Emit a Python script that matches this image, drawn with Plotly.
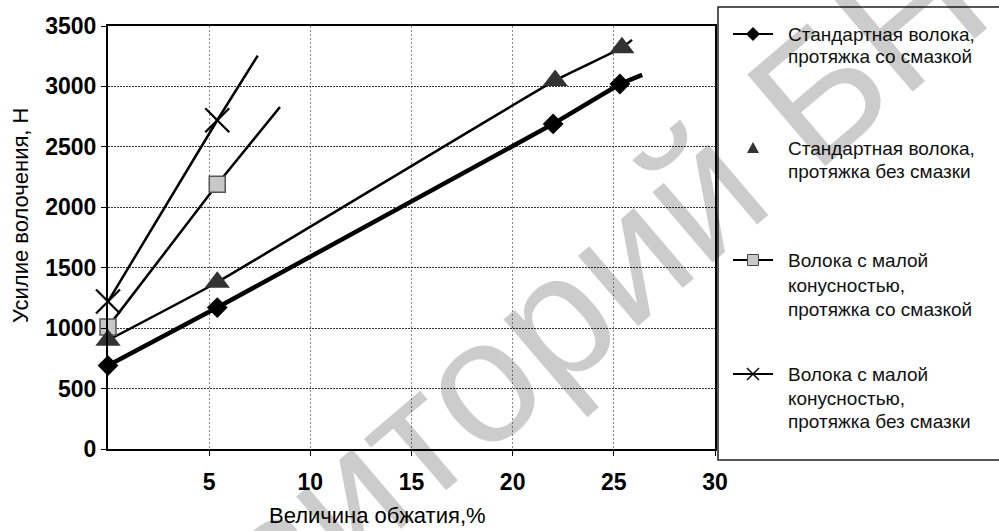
import plotly.graph_objects as go

# ---------------- data ----------------
x_title = "Величина обжатия,%"
y_title = "Усилие волочения, Н"

legend_lines = [
    ["Стандартная волока,", "протяжка со смазкой"],
    ["Стандартная волока,", "протяжка без смазки"],
    ["Волока с малой", "конусностью,", "протяжка со смазкой"],
    ["Волока с малой", "конусностью,", "протяжка без смазки"],
]

s1_x = [0, 5.4, 22.0, 25.3]
s1_y = [690, 1170, 2690, 3020]
s2_x = [0, 5.4, 22.1, 25.4]
s2_y = [900, 1380, 3050, 3320]
s3_x = [0, 5.4]
s3_y = [1010, 2190]
s4_x = [0, 5.4]
s4_y = [1220, 2720]

# where each trend line ends
trend_end_x = [26.4, 25.9, 8.5, 7.4]
trend_end_y = [3095, 3385, 2830, 3255]

x_tickvals = [5, 10, 15, 20, 25, 30]
y_tickvals = [0, 500, 1000, 1500, 2000, 2500, 3000, 3500]

watermark = "Репозиторий БНТУ"

# ---------------- figure ----------------
W, H = 999, 531
ML, MR, MT, MB = 108, 284, 26, 82
PW, PH = W - ML - MR, H - MT - MB


def px(xp):
    return (xp - ML) / PW


def py(yp):
    return (H - MB - yp) / PH


FONT = "Liberation Sans, Arial, sans-serif"
fig = go.Figure()

series = [(s1_x, s1_y), (s2_x, s2_y), (s3_x, s3_y), (s4_x, s4_y)]
line_widths = [4.5, 2.5, 2.5, 2.5]
for i, (xs, ys) in enumerate(series):
    fig.add_trace(go.Scatter(
        x=list(xs) + [trend_end_x[i]], y=list(ys) + [trend_end_y[i]],
        mode="lines", line=dict(color="black", width=line_widths[i],
                                shape="spline" if i == 1 else "linear", smoothing=0.4),
        showlegend=False, hoverinfo="skip"))

# markers
fig.add_trace(go.Scatter(x=s3_x, y=s3_y, mode="markers", showlegend=False, cliponaxis=False,
                         marker=dict(symbol="square", size=16, color="#c8c8c8",
                                     line=dict(color="#555", width=1.5))))
fig.add_trace(go.Scatter(x=s2_x, y=s2_y, mode="markers", showlegend=False, cliponaxis=False,
                         marker=dict(symbol="triangle-up", size=22, color="#333",
                                     line=dict(width=0))))
fig.add_trace(go.Scatter(x=s1_x, y=s1_y, mode="markers", showlegend=False, cliponaxis=False,
                         marker=dict(symbol="diamond", size=16, color="black",
                                     line=dict(width=0))))
fig.add_trace(go.Scatter(x=s4_x, y=s4_y, mode="markers", showlegend=False, cliponaxis=False,
                         marker=dict(symbol="x-thin", size=24,
                                     line=dict(color="black", width=2.2))))

# ---------------- manual legend ----------------
shapes = [dict(type="rect", xref="paper", yref="paper",
               x0=px(718), x1=px(1004), y0=py(460), y1=py(7),
               line=dict(color="#222", width=1.5), fillcolor="rgba(0,0,0,0)")]
annotations = []

line_y = [[34, 56], [148, 171], [260, 285, 309], [374, 398, 421]]
SX0, SX1, SXC, TX = 733, 773, 753, 786


def path(points):
    return "M" + "L".join(f"{px(a):.5f},{py(b):.5f}" for a, b in points) + "Z"


for i, lines in enumerate(legend_lines):
    cy = line_y[i][0]
    if i != 1:
        shapes.append(dict(type="line", xref="paper", yref="paper",
                           x0=px(SX0), x1=px(SX1), y0=py(cy), y1=py(cy),
                           line=dict(color="black", width=2)))
    if i == 0:
        r = 7
        shapes.append(dict(type="path", xref="paper", yref="paper",
                           path=path([(SXC - r, cy), (SXC, cy - r), (SXC + r, cy), (SXC, cy + r)]),
                           fillcolor="black", line=dict(width=0)))
    elif i == 1:
        shapes.append(dict(type="path", xref="paper", yref="paper",
                           path=path([(SXC - 6, cy + 5), (SXC + 6, cy + 5), (SXC, cy - 6)]),
                           fillcolor="#333", line=dict(width=0)))
    elif i == 2:
        r = 5.5
        shapes.append(dict(type="rect", xref="paper", yref="paper",
                           x0=px(SXC - r), x1=px(SXC + r), y0=py(cy + r), y1=py(cy - r),
                           fillcolor="#c8c8c8", line=dict(color="#444", width=1)))
    else:
        r = 6
        for a, b in [((SXC - r, cy - r), (SXC + r, cy + r)), ((SXC - r, cy + r), (SXC + r, cy - r))]:
            shapes.append(dict(type="line", xref="paper", yref="paper",
                               x0=px(a[0]), y0=py(a[1]), x1=px(b[0]), y1=py(b[1]),
                               line=dict(color="black", width=1.5)))
    for j, t in enumerate(lines):
        annotations.append(dict(text=t, xref="paper", yref="paper",
                                x=px(TX), y=py(line_y[i][j]), xanchor="left", yanchor="middle",
                                showarrow=False,
                                font=dict(family=FONT, size=19, color="#111")))

annotations += [
    dict(text=y_title, xref="paper", yref="paper", x=px(20), y=py(216),
         xanchor="center", yanchor="middle",
         textangle=-90, showarrow=False, font=dict(family=FONT, size=22, color="black")),
    dict(text=x_title, xref="paper", yref="paper", x=px(377), y=py(515),
         xanchor="center", yanchor="middle",
         showarrow=False, font=dict(family=FONT, size=22, color="black")),
    dict(text=watermark, xref="paper", yref="paper", x=px(535), y=py(334),
         xanchor="center", yanchor="middle",
         textangle=-40.5, showarrow=False,
         font=dict(family=FONT, size=175, color="rgba(0,0,0,0.2)")),
]

fig.update_layout(
    width=W, height=H,
    margin=dict(l=ML, r=MR, t=MT, b=MB, autoexpand=False),
    paper_bgcolor="white", plot_bgcolor="white",
    font=dict(family=FONT, color="black"),
    showlegend=False,
    xaxis=dict(range=[0, 30], tickvals=x_tickvals, showgrid=True, automargin=False,
               gridcolor="#888", griddash="2px,2px", gridwidth=1,
               showline=True, linecolor="black", linewidth=2, mirror=True,
               ticks="outside", ticklen=5, tickcolor="black", zeroline=False,
               tickfont=dict(family=FONT, size=23, color="black", weight="bold"),
               ticklabelstandoff=6),
    yaxis=dict(range=[0, 3500], tickvals=y_tickvals, showgrid=True, automargin=False,
               gridcolor="#333", griddash="2px,1px", gridwidth=1,
               showline=True, linecolor="black", linewidth=2, mirror=True,
               ticks="outside", ticklen=5, tickcolor="black", zeroline=False,
               tickfont=dict(family=FONT, size=23, color="black", weight="bold")),
    shapes=shapes,
    annotations=annotations,
)

fig.write_html("out.html", config={"displayModeBar": False},
               post_script="document.body.style.margin='0';")
